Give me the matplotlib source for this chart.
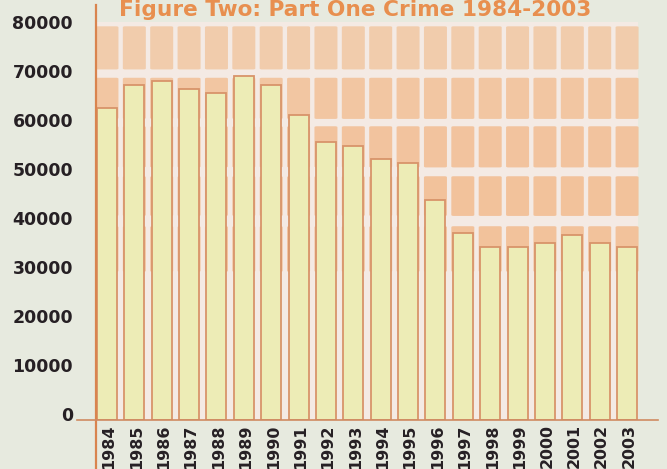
import matplotlib
matplotlib.use("Agg")
import matplotlib.pyplot as plt
import matplotlib.transforms as mtransforms
from matplotlib.patches import Rectangle, FancyBboxPatch
from matplotlib.lines import Line2D

years = ["1984", "1985", "1986", "1987", "1988", "1989", "1990", "1991", "1992", "1993",
         "1994", "1995", "1996", "1997", "1998", "1999", "2000", "2001", "2002", "2003"]
crimes = [63700, 68300, 69200, 67600, 66800, 70300, 68300, 62200, 56700, 55900,
          53300, 52500, 45000, 38100, 35400, 35400, 36200, 37700, 36100, 35400]
yticks = [0, 10000, 20000, 30000, 40000, 50000, 60000, 70000, 80000]
title = "Figure Two: Part One Crime 1984-2003"

W, H = 667, 469
fig = plt.figure(figsize=(W / 100, H / 100), dpi=100)
bg = "#e7eadf"
fig.patch.set_facecolor(bg)

ax = fig.add_axes([96 / W, 49 / H, (658 - 96) / W, (464 - 49) / H])
ax.set_facecolor(bg)
n = len(years)
x = list(range(n))
ax.set_xlim(-0.40, 20.13)
ax.set_ylim(0, 84700)

# pale panel behind bars
ax.add_patch(Rectangle((-0.40, 0), n - 0.2, 81200, facecolor="#f4eae4",
                       edgecolor="none", zorder=0))
# decorative tile background
rows = [(30000, 39800, "#f2bb8f"), (41400, 50000, "#f2bb8f"), (51300, 60200, "#f2bd92"),
        (61200, 70100, "#f2c097"), (71300, 80600, "#f1c7a2")]
for xi in x:
    for lo, hi, c in rows:
        ax.add_patch(FancyBboxPatch((xi - 0.40, lo + 300), 0.80, hi - lo - 600,
                                    boxstyle="round,pad=0.02,rounding_size=0.08",
                                    mutation_aspect=2500,
                                    facecolor=c, edgecolor="none", alpha=0.85, zorder=1))

ax.bar(x, crimes, width=0.73, color="#edecb6", edgecolor="#d8946a",
       linewidth=1.3, zorder=3)

for s in ax.spines.values():
    s.set_visible(False)

ax.set_yticks(yticks)
ax.set_yticklabels([str(v) for v in yticks])
ax.set_xticks(x)
ax.set_xticklabels(years, rotation=90)
ax.tick_params(axis="y", length=0, pad=16.5, labelsize=12.5, labelcolor="#262024")
ax.tick_params(axis="x", length=0, pad=3.0, labelsize=11.4, labelcolor="#262024")
for lab in ax.get_yticklabels() + ax.get_xticklabels():
    lab.set_fontweight("bold")
off = mtransforms.ScaledTranslation(0, 6.5 / 100, fig.dpi_scale_trans)
for lab in ax.get_yticklabels():
    lab.set_transform(lab.get_transform() + off)
offx = mtransforms.ScaledTranslation(2 / 100, 0, fig.dpi_scale_trans)
for lab in ax.get_xticklabels():
    lab.set_transform(lab.get_transform() + offx)

# axis lines (left one runs to the bottom edge, bottom one has a tick at 0)
fig.add_artist(Line2D([96 / W, 96 / W], [0, 464 / H], color="#d9844e", linewidth=1.6, zorder=5))
fig.add_artist(Line2D([77 / W, 658 / W], [49 / H, 49 / H], color="#cf8a62", linewidth=1.2, zorder=5))

fig.text(355 / W, 1 - 16 / H, title, ha="center", va="baseline", fontsize=15.6,
         fontweight="bold", color="#e88f4f", zorder=6)

fig.savefig("out.png", dpi=100, facecolor=bg)
